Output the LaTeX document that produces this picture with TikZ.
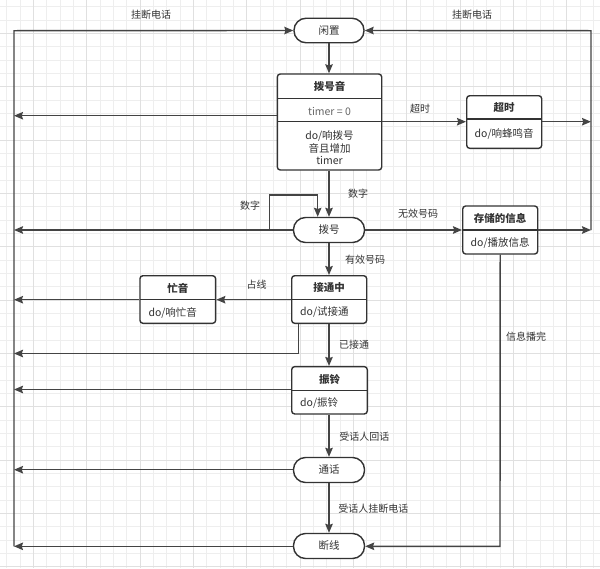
\documentclass[tikz,border=0pt]{standalone}
\usepackage{fontspec}
\setmainfont{Noto Sans CJK SC}
\usetikzlibrary{arrows.meta}
\definecolor{ln}{HTML}{444444}
\definecolor{bd}{HTML}{333333}
\definecolor{tx}{HTML}{333333}
\definecolor{lt}{HTML}{666666}
\definecolor{gmin}{HTML}{EEEEEE}
\definecolor{gmaj}{HTML}{E0E0E0}
\begin{document}
\begin{tikzpicture}[x=1pt,y=-1pt,
  font=\fontsize{10}{12}\selectfont, text=tx,
  sbox/.style={draw=bd, line width=1.4pt, fill=white, rounded corners=3pt, inner sep=0pt},
  stadium/.style={draw=bd, line width=1.4pt, fill=white, rounded corners=12pt, minimum width=71pt, minimum height=25pt, inner sep=0pt, font=\fontsize{10.5}{12}\selectfont},
  div/.style={draw=bd, line width=1.3pt},
  ttl/.style={inner sep=0pt, font=\fontsize{10.5}{12}\selectfont\bfseries},
  btxt/.style={inner sep=0pt, font=\fontsize{10.5}{12.5}\selectfont},
  lbl/.style={inner sep=0pt, font=\fontsize{10}{12}\selectfont},
  conn/.style={draw=ln, line width=1.4pt, -{Stealth[length=9pt,width=7.5pt,inset=1.2pt]}},
  plain/.style={draw=ln, line width=1.4pt}
]
\useasboundingbox (0,0) rectangle (600,568);
\fill[white] (0,0) rectangle (600,568);
% grid
\foreach \i in {0,...,44} {\pgfmathsetmacro\xx{6.667+13.333*\i}\draw[gmin, line width=0.9pt] (\xx,0) -- (\xx,568);}
\foreach \i in {0,...,42} {\pgfmathsetmacro\yy{6.667+13.333*\i}\draw[gmin, line width=0.9pt] (0,\yy) -- (600,\yy);}
\foreach \i in {0,...,10} {\pgfmathsetmacro\xx{33.333+53.333*\i}\draw[gmaj, line width=1pt] (\xx,0) -- (\xx,568);}
\foreach \i in {0,...,10} {\pgfmathsetmacro\yy{33.333+53.333*\i}\draw[gmaj, line width=1pt] (0,\yy) -- (600,\yy);}

% bus coordinates
\coordinate (Ltop) at (14,30.7);
\coordinate (Lbot) at (14,546.3);
\coordinate (L1) at (14,115.7);
\coordinate (L2) at (14,230);
\coordinate (L3) at (14,299.7);
\coordinate (L4) at (14,353.5);
\coordinate (L5) at (14,389.5);
\coordinate (L6) at (14,469.7);
\coordinate (Rtop) at (591,30.7);
\coordinate (R1) at (591,121.7);
\coordinate (R2) at (591,230);
\coordinate (lp1) at (269.3,230);
\coordinate (lp2) at (317.7,195);
\coordinate (jt) at (298.3,353.5);
\coordinate (cc) at (500,546.3);

% nodes
\node[stadium, minimum width=70pt, minimum height=24.5pt] (xz) at (329,30.5) {闲置};

\node[sbox, minimum width=104.4pt, minimum height=96pt] (bhy) at (329.5,122) {};
\draw[div] (277.3,98.3) -- (381.7,98.3);
\draw[div] (277.3,121.7) -- (381.7,121.7);
\node[ttl] (bhyT) at (329.5,86) {拨号音};
\node[btxt, text=lt] (bhyA) at (329.5,111.2) {timer = 0};
\node[btxt, align=center] (bhyB) at (329.5,148) {do/响拨号\\音且增加\\timer};

\node[sbox, minimum width=75pt, minimum height=52.6pt] (cs) at (504.2,122) {};
\draw[div] (466.7,119) -- (541.7,119);
\node[ttl] (csT) at (504.2,108) {超时};
\node[btxt] (csA) at (504.2,134) {do/响蜂鸣音};

\node[stadium] (bh) at (329,230) {拨号};

\node[sbox, minimum width=75pt, minimum height=48pt] (cx) at (500.2,230) {};
\draw[div] (462.7,230) -- (537.7,230);
\node[ttl] (cxT) at (500.2,218) {存储的信息};
\node[btxt] (cxA) at (500.2,243) {do/播放信息};

\node[sbox, minimum width=75.7pt, minimum height=47.6pt] (my) at (177.8,299.5) {};
\draw[div] (140,299.7) -- (215.7,299.7);
\node[ttl] (myT) at (177.8,288) {忙音};
\node[btxt, anchor=west] (myA) at (148.3,312.5) {do/响忙音};

\node[sbox, minimum width=75pt, minimum height=47.6pt] (jtz) at (329.2,299.5) {};
\draw[div] (291.7,299.5) -- (366.7,299.5);
\node[ttl] (jtzT) at (329.2,288) {接通中};
\node[btxt, anchor=west] (jtzA) at (300,312.5) {do/试接通};

\node[sbox, minimum width=75.6pt, minimum height=47.3pt] (zl) at (329.5,390.3) {};
\draw[div] (291.7,390.3) -- (367.3,390.3);
\node[ttl] (zlT) at (329.5,379.5) {振铃};
\node[btxt, anchor=west] (zlA) at (300,403) {do/振铃};

\node[stadium] (th) at (329,470) {通话};
\node[stadium] (dx) at (329,546) {断线};

% connectors
\draw[conn] (xz.south) -- (xz.south |- bhy.north);
\draw[conn] (bhy.south -| xz.south) -- (xz.south |- bh.north);
\draw[conn] (bhy.west |- L1) -- (L1);
\draw[conn] (bhy.east |- R1) -- (cs.west |- R1);
\draw[conn] (cs.east |- R1) -- (R1);
\draw[conn] (R2) -- (Rtop) -- (xz.east);
\draw[conn] (Lbot) -- (Ltop) -- (xz.west);
\draw[plain] (bh.west) -- (lp1);
\draw[conn] (lp1) |- (lp2) -- (lp2 |- bh.north);
\draw[conn] (bh.west) -- (L2);
\draw[conn] (bh.east) -- (cx.west);
\draw[conn] (cx.east) -- (R2);
\draw[conn] (bh.south) -- (bh.south |- jtz.north);
\draw[conn] (jtz.west |- L3) -- (my.east |- L3);
\draw[conn] (my.west |- L3) -- (L3);
\draw[conn] (jtz.south -| jt) -- (jt) -- (L4);
\draw[conn] (jtz.south -| bh.south) -- (bh.south |- zl.north);
\draw[conn] (zl.west |- L5) -- (L5);
\draw[conn] (zl.south -| bh.south) -- (th.north);
\draw[conn] (th.west |- L6) -- (L6);
\draw[conn] (th.south) -- (dx.north);
\draw[conn] (dx.west |- Lbot) -- (Lbot);
\draw[conn] (cx.south) -- (cc) -- (dx.east |- cc);

% labels
\node[lbl] (lbA) at (151,15) {挂断电话};
\node[lbl] (lbB) at (472,15) {挂断电话};
\node[lbl] (lbC) at (420,109) {超时};
\node[lbl] (lbD) at (250,206) {数字};
\node[lbl] (lbE) at (358,194) {数字};
\node[lbl] (lbF) at (418,214) {无效号码};
\node[lbl] (lbG) at (365,260) {有效号码};
\node[lbl] (lbH) at (256.7,284.3) {占线};
\node[lbl] (lbI) at (354,345) {已接通};
\node[lbl] (lbJ) at (526,336.7) {信息播完};
\node[lbl] (lbK) at (364.3,436.7) {受话人回话};
\node[lbl] (lbL) at (373.3,508.3) {受话人挂断电话};
\end{tikzpicture}
\end{document}
